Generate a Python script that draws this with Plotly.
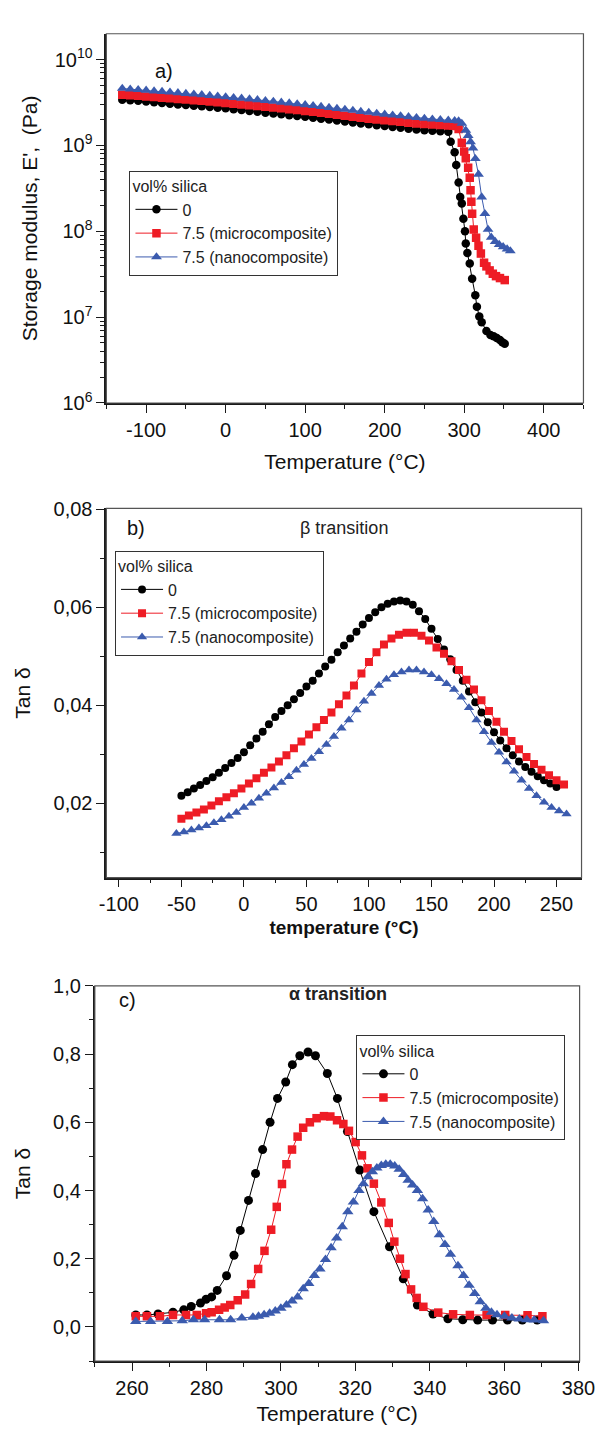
import plotly.graph_objects as go

FONT = "Liberation Sans, Arial, sans-serif"
BLACK = "#000000"
RED = "#EE1C25"
BLUE = "#3B5BAE"

W, H = 603, 1429

# ---------------- Panel a: storage modulus ----------------
a_T_black = [-130, -120, -110, -100, -90, -80, -70, -60, -50, -40, -30, -20, -10, 0, 10, 20, 30, 40, 50, 60,
             70, 80, 90, 100, 110, 120, 130, 140, 150, 160, 170, 180, 190, 200, 210, 220, 230, 240, 250, 260,
             270, 280, 283, 288, 290, 293, 295, 297, 299, 301, 302, 304, 307, 310, 314, 316, 319, 322, 328, 333,
             337, 341, 345, 348, 351]
a_E_black = [3.40e9, 3.35e9, 3.30e9, 3.24e9, 3.18e9, 3.12e9, 3.06e9, 3.00e9, 2.95e9, 2.90e9, 2.85e9, 2.80e9,
             2.75e9, 2.70e9, 2.64e9, 2.58e9, 2.52e9, 2.46e9, 2.40e9, 2.35e9, 2.30e9, 2.25e9, 2.20e9, 2.15e9,
             2.10e9, 2.05e9, 2.00e9, 1.95e9, 1.90e9, 1.85e9, 1.80e9, 1.76e9, 1.72e9, 1.68e9, 1.64e9, 1.60e9,
             1.56e9, 1.53e9, 1.50e9, 1.48e9, 1.46e9, 1.44e9, 1.10e9, 8.3e8, 5.9e8, 3.7e8, 2.5e8, 2.1e8, 1.4e8,
             1.0e8, 7.2e7, 5.6e7, 4.2e7, 2.8e7, 1.8e7, 1.32e7, 1.02e7, 8.7e6, 6.9e6, 6.2e6, 6.0e6, 5.7e6,
             5.4e6, 5.1e6, 4.9e6]

a_T_red = [-130, -120, -110, -100, -90, -80, -70, -60, -50, -40, -30, -20, -10, 0, 10, 20, 30, 40, 50, 60,
           70, 80, 90, 100, 110, 120, 130, 140, 150, 160, 170, 180, 190, 200, 210, 220, 230, 240, 250, 260,
           270, 280, 286, 290, 293, 297, 300, 302, 305, 307, 308, 309, 310, 312, 315, 318, 321, 325, 328, 332,
           336, 340, 345, 351]
a_E_red = [3.90e9, 3.85e9, 3.78e9, 3.72e9, 3.66e9, 3.60e9, 3.54e9, 3.48e9, 3.42e9, 3.36e9, 3.30e9, 3.24e9,
           3.18e9, 3.12e9, 3.06e9, 3.00e9, 2.94e9, 2.88e9, 2.82e9, 2.76e9, 2.70e9, 2.64e9, 2.58e9, 2.52e9,
           2.46e9, 2.40e9, 2.34e9, 2.28e9, 2.22e9, 2.16e9, 2.10e9, 2.05e9, 2.00e9, 1.96e9, 1.92e9, 1.88e9,
           1.84e9, 1.80e9, 1.77e9, 1.75e9, 1.73e9, 1.71e9, 1.70e9, 1.68e9, 1.55e9, 1.07e9, 8.5e8, 7.1e8,
           5.5e8, 4.2e8, 3.0e8, 2.2e8, 1.6e8, 1.05e8, 8.4e7, 6.8e7, 5.5e7, 4.3e7, 3.9e7, 3.5e7, 3.2e7,
           3.0e7, 2.85e7, 2.7e7]

a_T_blue = [-130, -120, -110, -100, -90, -80, -70, -60, -50, -40, -30, -20, -10, 0, 10, 20, 30, 40, 50, 60,
            70, 80, 90, 100, 110, 120, 130, 140, 150, 160, 170, 180, 190, 200, 210, 220, 230, 240, 250, 260,
            270, 280, 288, 293, 297, 302, 305, 308, 311, 314, 318, 322, 326, 330, 334, 339, 344, 349, 354, 358]
a_E_blue = [4.60e9, 4.52e9, 4.45e9, 4.38e9, 4.30e9, 4.23e9, 4.16e9, 4.09e9, 4.02e9, 3.95e9, 3.88e9, 3.81e9,
            3.74e9, 3.67e9, 3.60e9, 3.53e9, 3.46e9, 3.39e9, 3.32e9, 3.25e9, 3.18e9, 3.11e9, 3.04e9, 2.97e9,
            2.90e9, 2.83e9, 2.76e9, 2.69e9, 2.62e9, 2.55e9, 2.48e9, 2.42e9, 2.36e9, 2.30e9, 2.25e9, 2.20e9,
            2.15e9, 2.10e9, 2.06e9, 2.02e9, 1.99e9, 1.96e9, 1.94e9, 1.92e9, 1.80e9, 1.50e9, 1.30e9, 1.10e9,
            9.3e8, 7.0e8, 4.6e8, 2.5e8, 1.6e8, 1.05e8, 8.5e7, 7.6e7, 7.0e7, 6.6e7, 6.2e7, 5.9e7]

# ---------------- Panel b: beta transition ----------------
b_T_black = [-50, -45, -40, -35, -30, -25, -20, -15, -10, -5, 0, 5, 10, 15, 20, 25, 30, 35, 40, 45, 50, 55,
             60, 65, 70, 75, 80, 85, 90, 95, 100, 105, 110, 115, 120, 125, 130, 135, 140, 145, 150, 155, 160,
             165, 170, 175, 180, 185, 190, 195, 200, 205, 210, 215, 220, 225, 230, 235, 240, 245, 250]
b_tan_black = [0.0215, 0.0222, 0.0230, 0.0237, 0.0245, 0.0253, 0.0262, 0.0272, 0.0282, 0.0292, 0.0304,
               0.0318, 0.0332, 0.0346, 0.0361, 0.0376, 0.0388, 0.0400, 0.0412, 0.0425, 0.0438, 0.0450,
               0.0465, 0.0479, 0.0493, 0.0508, 0.0522, 0.0536, 0.0550, 0.0565, 0.0578, 0.0590, 0.0600,
               0.0607, 0.0612, 0.0614, 0.0612, 0.0605, 0.0592, 0.0576, 0.0556, 0.0535, 0.0514, 0.0494,
               0.0472, 0.0450, 0.0428, 0.0406, 0.0385, 0.0365, 0.0345, 0.0328, 0.0312, 0.0298, 0.0285,
               0.0274, 0.0264, 0.0255, 0.0247, 0.0240, 0.0233]

b_T_red = [-50, -44, -38, -32, -26, -20, -14, -8, -2, 4, 10, 16, 22, 28, 34, 40, 46, 52, 58, 64, 70, 76,
           82, 88, 94, 100, 106, 112, 118, 124, 130, 136, 142, 148, 154, 160, 166, 172, 178, 184, 190, 196,
           202, 208, 214, 220, 226, 232, 238, 244, 250, 256]
b_tan_red = [0.0168, 0.0175, 0.0181, 0.0187, 0.0195, 0.0204, 0.0212, 0.0220, 0.0230, 0.0240, 0.0251,
             0.0262, 0.0273, 0.0285, 0.0298, 0.0312, 0.0326, 0.0340, 0.0355, 0.0370, 0.0385, 0.0402,
             0.0420, 0.0440, 0.0465, 0.0488, 0.0508, 0.0524, 0.0536, 0.0544, 0.0548, 0.0548, 0.0542,
             0.0532, 0.0518, 0.0505, 0.0490, 0.0472, 0.0452, 0.0432, 0.0410, 0.0388, 0.0366, 0.0346,
             0.0327, 0.0310, 0.0294, 0.0280, 0.0268, 0.0257, 0.0247, 0.0238]

b_T_blue = [-54, -48, -42, -36, -30, -24, -18, -12, -6, 0, 6, 12, 18, 24, 30, 36, 42, 48, 54, 60, 66, 72,
            78, 84, 90, 96, 102, 108, 114, 120, 126, 132, 138, 144, 150, 156, 162, 168, 174, 180, 186, 192,
            198, 204, 210, 216, 222, 228, 234, 240, 246, 252, 258]
b_tan_blue = [0.0138, 0.0141, 0.0145, 0.0149, 0.0154, 0.0160, 0.0166, 0.0173, 0.0181, 0.0191, 0.0200,
              0.0210, 0.0220, 0.0231, 0.0242, 0.0254, 0.0267, 0.0279, 0.0291, 0.0305, 0.0320, 0.0336,
              0.0353, 0.0370, 0.0390, 0.0408, 0.0424, 0.0440, 0.0453, 0.0462, 0.0468, 0.0472, 0.0472,
              0.0468, 0.0462, 0.0454, 0.0444, 0.0432, 0.0416, 0.0395, 0.0370, 0.0346, 0.0324, 0.0304,
              0.0284, 0.0265, 0.0247, 0.0230, 0.0215, 0.0202, 0.0191, 0.0184, 0.0178]

# ---------------- Panel c: alpha transition ----------------
c_T_black = [261.0, 264.0, 267.0, 271.0, 273.9, 275.9, 278.4, 279.9, 281.4, 282.9, 285.4, 287.4, 289.1,
             291.3, 293.2, 295.1, 297.1, 299.1, 301.3, 303.1, 305.1, 307.3, 309.3, 312.5, 315.2, 317.9,
             321.2, 325.0, 329.2, 332.9, 336.7, 340.9, 344.9, 348.9, 352.9, 356.9, 360.9, 364.9, 368.9]
c_tan_black = [0.035, 0.035, 0.038, 0.043, 0.050, 0.060, 0.070, 0.081, 0.088, 0.107, 0.150, 0.210, 0.283,
               0.371, 0.450, 0.520, 0.600, 0.670, 0.718, 0.769, 0.795, 0.806, 0.795, 0.743, 0.670, 0.573,
               0.460, 0.338, 0.235, 0.141, 0.064, 0.038, 0.024, 0.021, 0.020, 0.020, 0.020, 0.020, 0.020]

c_T_red = [261.0, 264.0, 267.5, 271.0, 274.5, 277.4, 279.9, 281.4, 283.4, 284.9, 286.4, 288.4, 290.4, 292.0,
           293.9, 295.6, 297.4, 298.9, 300.3, 301.5, 303.0, 304.5, 306.0, 307.8, 309.6, 311.6, 313.3, 315.1,
           316.8, 318.3, 320.1, 321.8, 323.3, 325.0, 327.0, 329.0, 330.5, 332.0, 333.5, 335.0, 336.5, 338.3,
           342.3, 346.3, 350.8, 355.3, 360.3, 366.3, 370.3]
c_tan_red = [0.031, 0.031, 0.031, 0.035, 0.035, 0.035, 0.040, 0.043, 0.050, 0.057, 0.064, 0.078, 0.095,
             0.126, 0.170, 0.223, 0.285, 0.352, 0.419, 0.477, 0.520, 0.558, 0.584, 0.600, 0.612, 0.618,
             0.617, 0.606, 0.595, 0.575, 0.542, 0.503, 0.465, 0.420, 0.365, 0.305, 0.250, 0.200, 0.155,
             0.110, 0.085, 0.059, 0.042, 0.037, 0.035, 0.035, 0.035, 0.034, 0.031]

c_T_blue = [261.0, 265.0, 269.5, 273.5, 276.5, 279.5, 283.5, 286.5, 289.5, 292.5, 294.0, 295.5, 297.0,
            298.5, 300.0, 301.5, 303.0, 304.5, 306.0, 307.5, 309.0, 310.5, 312.0, 313.5, 315.0, 316.5,
            318.0, 319.5, 321.0, 322.2, 323.4, 324.6, 325.8, 327.0, 328.2, 329.4, 330.6, 331.8, 333.0,
            334.2, 335.4, 336.7, 338.1, 339.6, 341.1, 342.6, 344.1, 345.6, 347.6, 349.1, 350.6, 352.1,
            353.6, 355.1, 356.6, 358.1, 360.1, 362.1, 364.1, 366.1, 368.1, 370.6]
c_tan_blue = [0.016, 0.016, 0.016, 0.018, 0.021, 0.021, 0.021, 0.021, 0.026, 0.028, 0.031, 0.036, 0.040,
              0.047, 0.055, 0.064, 0.076, 0.088, 0.112, 0.127, 0.151, 0.170, 0.198, 0.232, 0.261, 0.294,
              0.338, 0.366, 0.400, 0.420, 0.440, 0.455, 0.466, 0.473, 0.477, 0.477, 0.472, 0.462, 0.447,
              0.430, 0.416, 0.400, 0.376, 0.343, 0.309, 0.270, 0.242, 0.213, 0.179, 0.151, 0.122, 0.098,
              0.074, 0.055, 0.043, 0.036, 0.031, 0.026, 0.023, 0.021, 0.020, 0.018]

series_names = ["0", "7.5 (microcomposite)", "7.5 (nanocomposite)"]
legend_title = "vol% silica"

a_xticks = [-100, 0, 100, 200, 300, 400]
b_xticks = [-100, -50, 0, 50, 100, 150, 200, 250]
c_xticks = [260, 280, 300, 320, 340, 360, 380]
b_yticks = [0.02, 0.04, 0.06, 0.08]
c_yticks = [0.0, 0.2, 0.4, 0.6, 0.8, 1.0]


def px_x(x0, x1):
    return [x0 / W, x1 / W]


def px_y(y_top, y_bot):
    return [1 - y_bot / H, 1 - y_top / H]


fig = go.Figure()

panels = [
    ("x", "y", "legend", [(a_T_black, a_E_black), (a_T_red, a_E_red), (a_T_blue, a_E_blue)], [8.5, 8.5, 9.5]),
    ("x2", "y2", "legend2", [(b_T_black, b_tan_black), (b_T_red, b_tan_red), (b_T_blue, b_tan_blue)], [8, 8, 9]),
    ("x3", "y3", "legend3", [(c_T_black, c_tan_black), (c_T_red, c_tan_red), (c_T_blue, c_tan_blue)], [9, 8.5, 10]),
]
colors = [BLACK, RED, BLUE]
symbols = ["circle", "square", "triangle-up"]

for xa, ya, leg, data, sizes in panels:
    for (xs, ys), name, col, sym, sz in zip(data, series_names, colors, symbols, sizes):
        fig.add_trace(go.Scatter(
            x=xs, y=ys, mode="lines+markers", name=name, xaxis=xa, yaxis=ya, legend=leg,
            line=dict(color=col, width=1),
            marker=dict(color=col, symbol=sym, size=sz, line=dict(width=0)),
        ))

TICKCOL = "#1a1a1a"
axis_common = dict(
    showline=True, linecolor=TICKCOL, linewidth=1.8, mirror=False,
    ticks="outside", ticklen=8, tickwidth=1.4, tickcolor=TICKCOL,
    showgrid=False, zeroline=False,
    tickfont=dict(family=FONT, size=20, color="#111"),
)
title_font = dict(family=FONT, size=21, color="#111")
leg_font = dict(family=FONT, size=16, color="#222")

legend_common = dict(
    xanchor="left", yanchor="top", bgcolor="white", bordercolor="#333", borderwidth=1,
    tracegroupgap=0, itemwidth=42, font=leg_font,
    title=dict(text=legend_title, font=leg_font),
)


def minor(**kw):
    return dict(ticks="outside", ticklen=4, tickcolor=TICKCOL, tickwidth=1.2, **kw)


log_minor = [m * 10 ** e for e in range(6, 10) for m in range(2, 10)] + [2e10]

frames = [
    dict(type="rect", xref=f"{xa} domain", yref=f"{ya} domain", x0=0, x1=1, y0=0, y1=1,
         line=dict(color="#555", width=1.2), layer="above")
    for xa, ya in [("x", "y"), ("x2", "y2"), ("x3", "y3")]
]

fig.update_layout(
    width=W, height=H, margin=dict(l=0, r=0, t=0, b=0),
    paper_bgcolor="white", plot_bgcolor="white",
    separators=",.",
    font=dict(family=FONT, color="#111"),
    showlegend=True,
    shapes=frames,
    # panel a
    xaxis=dict(axis_common, domain=px_x(95, 591), anchor="y", range=[-150, 450],
               tickvals=a_xticks, ticktext=[str(v) for v in a_xticks],
               minor=minor(dtick=50, tick0=-150),
               title=dict(text="Temperature (°C)", font=title_font, standoff=14)),
    yaxis=dict(axis_common, domain=px_y(15, 390), anchor="x", type="log", range=[6, 10.3],
               tickvals=[1e6, 1e7, 1e8, 1e9, 1e10],
               ticktext=["10<sup>6</sup>", "10<sup>7</sup>", "10<sup>8</sup>", "10<sup>9</sup>", "10<sup>10</sup>"],
               minor=minor(tickvals=log_minor),
               title=dict(text="Storage modulus, E',\u00a0\u00a0(Pa)", font=title_font, standoff=11)),
    # panel b
    xaxis2=dict(axis_common, domain=px_x(95, 589), anchor="y2", range=[-110, 270],
                tickvals=b_xticks, ticktext=[str(v) for v in b_xticks],
                minor=minor(dtick=25, tick0=-100),
                title=dict(text="<b>temperature (°C)</b>", font=dict(family=FONT, size=19, color="#111"), standoff=6)),
    yaxis2=dict(axis_common, domain=px_y(497, 872), anchor="x2", range=[0.0048, 0.0802],
                tickvals=b_yticks, tickformat=".2f",
                minor=minor(tickvals=[0.01, 0.03, 0.05, 0.07]),
                title=dict(text="Tan δ", font=title_font, standoff=17)),
    # panel c
    xaxis3=dict(axis_common, domain=px_x(83, 587), anchor="y3", range=[250, 380.3],
                tickvals=c_xticks, ticktext=[str(v) for v in c_xticks],
                minor=minor(dtick=10, tick0=250),
                title=dict(text="Temperature (°C)", font=title_font, standoff=8)),
    yaxis3=dict(axis_common, domain=px_y(982, 1363), anchor="x3", range=[-0.1, 1.0],
                tickvals=c_yticks, tickformat=".1f",
                minor=minor(tickvals=[-0.1, 0.1, 0.3, 0.5, 0.7, 0.9]),
                title=dict(text="Tan δ", font=title_font, standoff=17)),
    legend=dict(legend_common, x=119 / W, y=1 - 154 / H),
    legend2=dict(legend_common, x=104 / W, y=1 - 540 / H),
    legend3=dict(legend_common, x=355 / W, y=1 - 1032 / H),
    annotations=[
        dict(text="a)", x=143 / W, y=1 - 40 / H, xref="paper", yref="paper", showarrow=False,
             font=dict(family=FONT, size=20, color="#111")),
        dict(text="b)", x=114 / W, y=1 - 517 / H, xref="paper", yref="paper", showarrow=False,
             font=dict(family=FONT, size=20, color="#111")),
        dict(text="β transition", x=342 / W, y=1 - 517 / H, xref="paper", yref="paper", showarrow=False,
             font=dict(family=FONT, size=18, color="#222")),
        dict(text="c)", x=106 / W, y=1 - 1010 / H, xref="paper", yref="paper", showarrow=False,
             font=dict(family=FONT, size=20, color="#111")),
        dict(text="<b>α transition</b>", x=336 / W, y=1 - 1002 / H, xref="paper", yref="paper", showarrow=False,
             font=dict(family=FONT, size=18, color="#222")),
    ],
)

fig.write_html("out.html")
